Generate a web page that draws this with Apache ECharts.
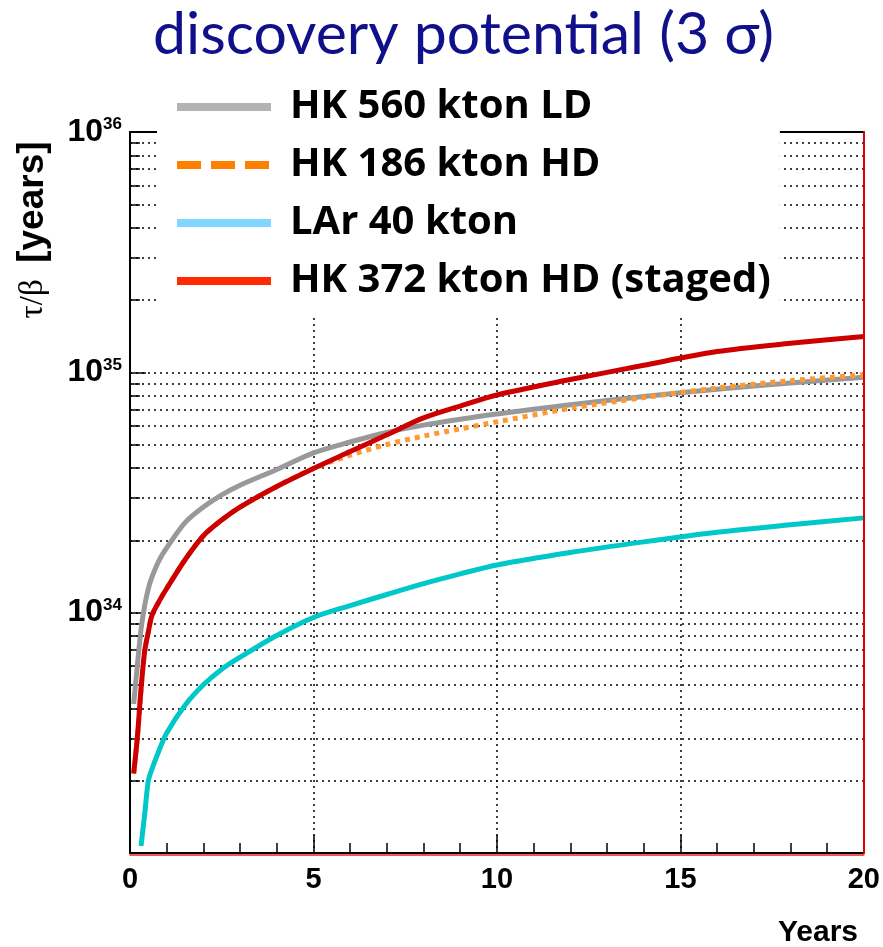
<!DOCTYPE html>
<html>
<head>
<meta charset="utf-8">
<script src="https://cdn.jsdelivr.net/npm/echarts@6/dist/echarts.min.js"></script>
<style>
  html, body { margin: 0; padding: 0; background: #fff; }
  #main { width: 883px; height: 947px; }
</style>
</head>
<body>
<div id="main"></div>
<script>
var chartDom = document.getElementById("main");
var myChart = echarts.init(chartDom);
var option;

// years of running
var years = [0.1, 0.2, 0.3, 0.4, 0.5, 0.6, 0.8, 1, 1.5, 2, 2.5, 3, 4, 5, 6, 7, 8, 9, 10, 12, 14, 16, 18, 20];

// tau/beta [years]
var hk560LD = [4.17e33, 6.03e33, 8.51e33, 1.07e34, 1.26e34, 1.41e34, 1.66e34, 1.86e34, 2.37e34, 2.75e34, 3.09e34, 3.39e34, 3.94e34, 4.62e34, 5.13e34, 5.62e34, 6.03e34, 6.38e34, 6.71e34, 7.33e34, 7.94e34, 8.51e34, 9.02e34, 9.55e34];
var hk186HD = [2.14e33, 3.02e33, 4.79e33, 6.92e33, 8.32e33, 9.77e33, 1.12e34, 1.26e34, 1.66e34, 2.09e34, 2.43e34, 2.75e34, 3.35e34, 3.98e34, 4.52e34, 5.01e34, 5.43e34, 5.82e34, 6.22e34, 7.08e34, 7.85e34, 8.61e34, 9.23e34, 9.77e34];
var lar40 = [null, null, 1.07e33, 1.45e33, 2.00e33, 2.24e33, 2.69e33, 3.16e33, 4.12e33, 5.01e33, 5.82e33, 6.53e33, 8.04e33, 9.55e33, 1.07e34, 1.19e34, 1.32e34, 1.45e34, 1.58e34, 1.78e34, 1.97e34, 2.16e34, 2.32e34, 2.48e34];
var hk372Staged = [2.14e33, 3.02e33, 4.79e33, 6.92e33, 8.32e33, 9.77e33, 1.12e34, 1.26e34, 1.66e34, 2.09e34, 2.43e34, 2.75e34, 3.35e34, 3.98e34, 4.68e34, 5.50e34, 6.46e34, 7.24e34, 8.05e34, 9.33e34, 1.07e35, 1.22e35, 1.32e35, 1.41e35];

var seriesNames = ["HK 560 kton LD", "HK 186 kton HD", "LAr 40 kton", "HK 372 kton HD (staged)"];

function pairs(vals) {
  return years.map(function (x, i) { return [x, vals[i]]; });
}

var dotted = { color: "#000", width: 1.5, type: [2, 4] };
var numFont = "'Liberation Sans Narrow', 'Liberation Sans', Arial, sans-serif";

option = {
  animation: false,
  backgroundColor: "#fff",
  title: {
    text: "discovery potential (3 σ)",
    left: 148,
    top: 0,
    textStyle: { fontFamily: "Lato", fontWeight: "normal", fontSize: 59, color: "#10108a" }
  },
  grid: { left: 130, right: 18, top: 132, bottom: 94 },
  legend: {
    orient: "vertical",
    left: 157,
    top: 78,
    padding: [9, 9, 15, 16],
    backgroundColor: "#fff",
    itemWidth: 94,
    itemHeight: 8,
    itemGap: 18,
    selectedMode: false,
    z: 10,
    itemStyle: { opacity: 0 },
    textStyle: { fontFamily: "'Open Sans'", fontWeight: "bold", fontSize: 40, lineHeight: 40, color: "#000", padding: [0, 0, 0, 14] },
    data: [
      { name: seriesNames[0], lineStyle: { color: "#b3b3b3", width: 8, type: "solid" } },
      { name: seriesNames[1], lineStyle: { color: "#ff7f00", width: 8, type: [24, 10] } },
      { name: seriesNames[2], lineStyle: { color: "#7fd6ff", width: 8, type: "solid" } },
      { name: seriesNames[3], lineStyle: { color: "#ff2a00", width: 8, type: "solid" } }
    ]
  },
  xAxis: [
    {
      type: "value",
      min: 0,
      max: 20,
      interval: 5,
      axisLine: { onZero: false, lineStyle: { color: "#000", width: 2 } },
      axisTick: { inside: true, length: 18, lineStyle: { color: "#000", width: 1.5 } },
      minorTick: { show: true, splitNumber: 5, length: 10, lineStyle: { color: "#000", width: 1.5 } },
      splitLine: { show: true, lineStyle: dotted },
      axisLabel: { margin: 12, fontFamily: numFont, fontWeight: "bold", fontSize: 29, color: "#000" }
    },
    {
      type: "value",
      position: "top",
      min: 0,
      max: 20,
      axisLine: { show: true, onZero: false, lineStyle: { color: "#000", width: 2 } },
      axisTick: { show: false },
      axisLabel: { show: false },
      splitLine: { show: false }
    },
    {
      type: "value",
      position: "bottom",
      offset: 2,
      min: 0,
      max: 20,
      axisLine: { show: true, onZero: false, lineStyle: { color: "#ee2020", width: 1.5 } },
      axisTick: { show: false },
      axisLabel: { show: false },
      splitLine: { show: false }
    }
  ],
  yAxis: [
    {
      type: "log",
      logBase: 10,
      min: 1e33,
      max: 1e36,
      axisLine: { show: true, onZero: false, lineStyle: { color: "#000", width: 2 } },
      axisTick: { inside: true, length: 16, lineStyle: { color: "#000", width: 1.5 } },
      minorTick: { show: true, splitNumber: 9, length: 10, lineStyle: { color: "#000", width: 1.5 } },
      splitLine: { show: true, lineStyle: dotted },
      minorSplitLine: { show: true, lineStyle: dotted },
      axisLabel: {
        margin: 8,
        formatter: function (v) {
          var p = Math.round(Math.log10(v));
          return p === 33 ? "" : "{b|10}{s|" + p + "}";
        },
        rich: {
          b: { fontFamily: numFont, fontWeight: "bold", fontSize: 32, color: "#000" },
          s: { fontFamily: numFont, fontWeight: "bold", fontSize: 17, color: "#000", verticalAlign: "top" }
        }
      }
    },
    {
      type: "log",
      logBase: 10,
      min: 1e33,
      max: 1e36,
      position: "right",
      z: 5,
      axisLine: { show: true, onZero: false, lineStyle: { color: "#e00000", width: 2 } },
      axisTick: { show: false },
      axisLabel: { show: false },
      splitLine: { show: false }
    }
  ],
  graphic: [
    {
      type: "text",
      x: 33,
      y: 230,
      rotation: Math.PI / 2,
      style: {
        text: "{a|τ/β  }{b|[years]}",
        align: "center",
        verticalAlign: "middle",
        rich: {
          a: { fontFamily: "'Liberation Serif', serif", fontSize: 33, fill: "#000" },
          b: { fontFamily: numFont, fontWeight: "bold", fontSize: 37, fill: "#000" }
        }
      }
    },
    {
      type: "text",
      x: 858,
      y: 933,
      style: {
        text: "Years",
        align: "right",
        verticalAlign: "middle",
        fontFamily: numFont,
        fontWeight: "bold",
        fontSize: 30,
        fill: "#000"
      }
    }
  ],
  series: [
    {
      name: seriesNames[0],
      type: "line",
      data: pairs(hk560LD),
      smooth: 0.3,
      symbol: "none",
      lineStyle: { color: "#999999", width: 5 },
      itemStyle: { color: "#999999" }
    },
    {
      name: seriesNames[1],
      type: "line",
      data: pairs(hk186HD),
      smooth: 0.3,
      symbol: "none",
      lineStyle: { color: "#ff9933", width: 5, type: [5, 5] },
      itemStyle: { color: "#ff9933" }
    },
    {
      name: seriesNames[3],
      type: "line",
      data: pairs(hk372Staged),
      smooth: 0.3,
      symbol: "none",
      lineStyle: { color: "#cc0000", width: 5 },
      itemStyle: { color: "#cc0000" }
    },
    {
      name: seriesNames[2],
      type: "line",
      data: pairs(lar40),
      smooth: 0.3,
      symbol: "none",
      lineStyle: { color: "#00c8c8", width: 5 },
      itemStyle: { color: "#00c8c8" }
    }
  ]
};

option && myChart.setOption(option);
</script>
</body>
</html>
